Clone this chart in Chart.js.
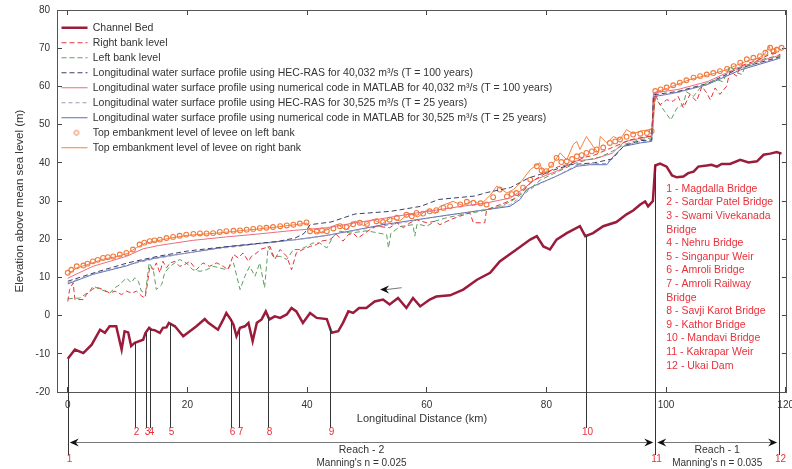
<!DOCTYPE html>
<html>
<head>
<meta charset="utf-8">
<script src="https://cdn.jsdelivr.net/npm/chart.js@4.4.1/dist/chart.umd.min.js"></script>
<style>
  body { margin: 0; background: #fff; }
  #wrap { width: 792px; height: 469px; }
</style>
</head>
<body>
<div id="wrap"><canvas id="profile-chart"></canvas></div>
<script>
// channel bed
const bedKm = [0, 1.2, 2.6, 4.0, 5.4, 6.2, 7.0, 8.1, 9.0, 9.5, 10.1, 10.6, 11.2, 12.6, 13.0, 13.6, 14.0, 14.5, 15.4, 15.9, 16.5, 16.9, 17.9, 18.4, 19.3, 20.4, 21.5, 22.9, 23.5, 24.3, 25.1, 26.0, 26.5, 27.2, 27.7, 28.2, 28.8, 29.6, 30.2, 30.9, 31.6, 32.4, 33.1, 33.7, 34.6, 35.5, 36.6, 37.4, 38.2, 39.3, 40.5, 41.6, 43.3, 44.1, 45.2, 46.0, 46.9, 47.7, 48.7, 49.9, 51.3, 52.7, 53.8, 55.2, 56.6, 57.7, 58.9, 60.5, 61.6, 63.9, 66.1, 68.4, 70.6, 72.2, 75.0, 77.3, 78.4, 79.5, 80.6, 81.7, 83.4, 85.6, 86.5, 87.8, 89.5, 91.7, 93.4, 94.5, 95.7, 96.5, 97.0, 97.8, 98.2, 99.0, 100.1, 101.0, 101.8, 102.9, 103.7, 104.6, 105.4, 106.8, 107.6, 108.5, 109.3, 110.7, 112.4, 113.8, 115.2, 116.3, 117.4, 118.5, 119.3];
const bedElev = [-11.3, -8.9, -9.8, -7.6, -3.7, -4.5, -2.8, -2.8, -8.9, -4.1, -4.4, -8.0, -7.1, -6.3, -4.5, -3.2, -3.7, -3.8, -4.5, -3.2, -3.1, -1.9, -2.8, -3.7, -5.4, -4.1, -2.8, -0.9, -1.9, -2.8, -3.7, -1.0, 0.7, -0.9, -2.4, -5.4, -3.2, -2.8, -1.9, -6.7, -1.9, -1.0, 1.1, -1.0, -0.2, -0.6, 0.3, 2.0, 1.1, -1.9, 0.7, -0.6, -0.9, -4.5, -4.1, -1.9, 1.1, 0.7, 2.0, 2.0, 3.7, 4.2, 2.9, 4.6, 2.0, 4.6, 2.4, 4.2, 5.0, 5.3, 6.8, 9.4, 11.2, 14.2, 17.3, 19.9, 20.8, 18.1, 17.3, 19.9, 21.6, 23.4, 20.8, 21.6, 23.4, 24.5, 26.5, 27.5, 29.1, 29.9, 28.6, 30.0, 39.3, 39.8, 39.0, 36.7, 36.2, 36.4, 37.3, 37.7, 39.0, 39.3, 39.5, 39.0, 39.7, 39.7, 40.8, 40.1, 40.4, 42.1, 42.4, 42.8, 42.4];

// right bank level
const rightBankKm = [0, 0.3, 0.9, 1.2, 2.6, 3.1, 4.2, 5.1, 6.2, 7.0, 7.9, 9.0, 9.8, 10.7, 11.5, 12.3, 12.9, 13.3, 13.7, 14.3, 14.8, 15.4, 15.9, 16.5, 17.1, 17.9, 18.7, 19.6, 20.4, 21.5, 22.6, 23.7, 24.9, 26.0, 26.8, 27.7, 28.5, 29.3, 30.2, 30.7, 31.6, 32.1, 33.8, 34.6, 35.5, 36.6, 37.4, 38.2, 39.3, 40.5, 41.6, 42.4, 43.8, 44.9, 46.0, 46.9, 47.7, 48.5, 50.5, 51.6, 53.8, 55.0, 56.1, 57.2, 58.3, 60.0, 61.4, 62.2, 63.9, 65.5, 67.2, 67.8, 69.7, 70.0, 71.5, 73.0, 74.5, 76.0, 77.5, 79.0, 80.5, 82.0, 83.5, 85.0, 86.5, 88.0, 89.5, 91.0, 92.5, 94.0, 95.5, 97.5, 98.2, 99.0, 100.1, 101.2, 102.0, 102.9, 104.0, 105.1, 106.0, 106.8, 107.4, 108.2, 109.0, 110.1, 110.7, 111.8, 112.4, 114.0, 115.7, 117.9, 119.1];
const rightBankElev = [3.7, 6.8, 8.6, 4.2, 4.2, 5.5, 7.0, 7.3, 6.6, 5.9, 6.4, 5.5, 6.4, 5.9, 6.4, 5.2, 4.6, 8.1, 12.9, 12.0, 13.8, 11.2, 14.2, 12.5, 13.8, 14.2, 12.9, 13.4, 14.2, 12.0, 13.8, 12.9, 13.8, 12.9, 12.0, 16.0, 15.1, 16.4, 14.2, 15.5, 16.4, 17.3, 18.1, 14.7, 17.3, 15.5, 12.0, 16.4, 17.3, 18.1, 18.6, 19.5, 19.9, 21.2, 19.5, 21.2, 21.6, 20.3, 22.5, 23.4, 23.0, 24.3, 23.0, 24.3, 25.1, 24.3, 24.7, 23.8, 25.1, 26.0, 26.9, 24.3, 24.3, 27.7, 28.6, 29.5, 30.5, 32.5, 35.0, 36.5, 37.8, 39.0, 39.5, 40.5, 41.5, 42.0, 43.0, 44.0, 45.0, 46.0, 46.5, 47.0, 57.9, 55.2, 56.5, 56.1, 57.4, 54.4, 57.9, 56.1, 60.0, 58.3, 56.5, 59.6, 57.9, 60.0, 64.0, 62.7, 65.3, 66.2, 67.1, 68.8, 68.3];

// left bank level
const leftBankKm = [0, 2.0, 3.7, 4.2, 7.0, 7.9, 8.7, 9.8, 10.6, 11.2, 11.8, 12.3, 13.0, 13.6, 14.3, 14.8, 15.7, 16.2, 17.1, 18.7, 19.8, 20.9, 22.1, 23.2, 24.3, 25.4, 26.5, 27.7, 28.8, 29.6, 30.4, 31.3, 32.1, 32.9, 33.5, 34.3, 35.5, 36.6, 37.7, 38.8, 39.9, 41.0, 42.1, 43.3, 44.4, 45.5, 47.2, 50.0, 53.3, 53.6, 54.0, 55.5, 57.7, 58.0, 58.4, 60.0, 61.5, 63.3, 66.0, 69.0, 72.0, 74.0, 76.0, 77.5, 79.0, 81.0, 83.0, 85.0, 87.0, 89.0, 91.0, 93.0, 95.5, 97.5, 98.2, 99.8, 100.8, 101.8, 102.9, 103.4, 104.6, 105.7, 106.8, 108.5, 109.5, 110.7, 111.8, 112.7, 113.2, 115.0, 117.0, 119.1];
const leftBankElev = [4.4, 4.6, 6.4, 7.7, 5.9, 7.3, 8.1, 9.9, 8.6, 9.9, 9.0, 6.4, 5.9, 13.8, 12.0, 6.8, 8.1, 11.2, 12.9, 14.7, 13.8, 12.0, 11.6, 12.0, 12.9, 12.5, 12.0, 13.8, 6.8, 10.3, 12.9, 10.3, 13.8, 7.3, 18.1, 15.5, 15.5, 14.7, 17.3, 17.3, 18.1, 19.0, 19.0, 17.7, 20.8, 22.1, 21.6, 22.2, 21.2, 17.7, 21.5, 23.3, 23.8, 20.8, 24.0, 23.4, 24.8, 25.6, 26.5, 27.3, 28.5, 29.8, 32.0, 33.5, 35.5, 37.0, 38.5, 40.0, 40.8, 41.5, 43.0, 44.8, 46.0, 46.5, 57.0, 53.4, 51.2, 54.3, 55.2, 58.6, 57.4, 59.6, 60.9, 61.8, 61.2, 65.3, 63.6, 63.1, 65.3, 66.5, 67.5, 68.0];

// HEC-RAS, 40,032 m3/s
const hec100Km = [0, 5, 10, 15, 20, 25, 30, 35, 38, 39.5, 40.5, 44, 48, 54, 59, 62, 68, 70, 74, 77, 80, 84, 88, 91, 93, 95.7, 97.6, 97.9, 102, 107, 112, 119.1];
const hec100Elev = [9.0, 11.5, 13.8, 15.5, 16.9, 17.8, 18.6, 19.4, 20.3, 21.5, 23.8, 24.5, 26.6, 27.3, 28.6, 30.4, 31.3, 32.2, 33.5, 36.0, 37.5, 39.5, 40.0, 41.0, 44.5, 45.8, 46.0, 57.8, 58.7, 60.8, 64.6, 67.8];

// MATLAB, 40,032 m3/s
const mat100Km = [0, 4.2, 9.8, 12.6, 15.4, 20.9, 26.5, 32.1, 37.7, 43.3, 47.7, 53, 58, 64, 70, 74, 76, 78, 82, 85, 88, 91, 93, 96, 97.6, 97.9, 102, 107, 112, 119.1];
const mat100Elev = [9.8, 12.9, 15.5, 17.5, 18.4, 19.7, 20.6, 21.4, 22.3, 23.0, 24.2, 25.5, 26.8, 28.2, 29.5, 30.8, 33.0, 35.5, 38.0, 40.5, 41.0, 42.5, 45.5, 46.5, 47.0, 58.3, 59.2, 61.3, 64.9, 68.2];

// HEC-RAS, 30,525 m3/s
const hec25Km = [0, 5, 10, 15, 20, 25, 30, 35, 40, 45, 50, 55, 60, 65, 70, 74, 76, 78, 82, 85, 88, 90, 91.5, 93, 95.7, 97.6, 97.9, 102, 107, 112, 119.1];
const hec25Elev = [8.6, 11.2, 13.3, 15.0, 16.4, 17.5, 18.4, 19.3, 20.2, 21.4, 22.8, 24.1, 25.4, 26.6, 27.8, 29.0, 31.5, 33.8, 36.8, 39.3, 39.8, 39.8, 42.0, 44.5, 45.5, 45.9, 57.5, 58.4, 60.6, 64.5, 67.6];

// MATLAB, 30,525 m3/s
const mat25Km = [0, 4.2, 9.8, 12.0, 15.4, 20.9, 26.5, 32.1, 37.7, 43.3, 47.7, 52.7, 58.3, 63.9, 69.4, 73.9, 75.6, 76.7, 78.4, 81.7, 85.1, 87.3, 90.1, 91.2, 92.9, 95.7, 97.6, 97.9, 101.2, 106.8, 112.4, 119.1];
const mat25Elev = [8.3, 10.8, 13.0, 14.2, 15.3, 16.6, 18.0, 18.9, 19.8, 21.0, 22.3, 23.8, 25.1, 26.4, 27.6, 28.6, 30.4, 33.0, 34.3, 36.5, 39.1, 39.5, 39.5, 41.7, 44.3, 45.2, 45.6, 57.3, 58.2, 60.4, 64.3, 67.4];

// top embankment, left bank (markers)
const leveeLeftKm = [0, 0.6, 1.5, 2.6, 3.3, 4.2, 5.0, 5.9, 6.7, 7.6, 8.7, 9.8, 10.9, 12.0, 12.8, 13.7, 14.5, 15.4, 16.5, 17.6, 18.7, 19.8, 21.0, 22.1, 23.2, 24.3, 25.4, 26.5, 27.7, 28.8, 29.9, 31.0, 32.1, 33.2, 34.3, 35.5, 36.6, 37.7, 38.8, 39.9, 40.5, 41.6, 42.5, 43.3, 44.4, 45.5, 46.6, 47.7, 48.8, 50.0, 51.6, 52.7, 53.8, 55.0, 56.6, 57.5, 58.3, 59.4, 60.5, 61.6, 62.8, 63.9, 65.6, 66.7, 67.8, 69.0, 70.0, 71.1, 72.2, 73.4, 74.2, 75.0, 76.1, 77.3, 78.4, 79.2, 80.0, 80.8, 81.7, 82.5, 83.4, 84.3, 85.1, 85.9, 86.7, 87.6, 88.4, 89.5, 90.6, 91.5, 92.3, 93.4, 94.5, 95.7, 96.8, 97.6, 98.2, 99.1, 100.1, 101.2, 102.3, 103.4, 104.6, 105.7, 106.8, 107.9, 109.0, 110.2, 111.3, 112.4, 113.5, 114.6, 115.7, 116.6, 117.4, 118.0, 118.5, 119.3];
const leveeLeftElev = [11.2, 12.0, 12.9, 13.1, 13.6, 14.2, 14.6, 15.1, 15.3, 15.5, 16.0, 16.4, 17.3, 18.6, 19.1, 19.5, 19.7, 19.9, 20.3, 20.6, 20.9, 21.2, 21.4, 21.5, 21.5, 21.6, 21.9, 22.1, 22.2, 22.3, 22.5, 22.7, 22.9, 23.0, 23.2, 23.4, 23.6, 23.8, 24.1, 24.4, 22.1, 22.0, 22.3, 22.1, 22.8, 23.4, 23.2, 23.9, 24.3, 24.0, 24.7, 24.5, 25.1, 25.6, 26.4, 26.0, 26.9, 26.7, 27.3, 27.6, 28.2, 28.6, 29.1, 29.8, 29.5, 29.4, 29.1, 31.0, 33.0, 31.2, 31.8, 32.1, 33.5, 35.6, 39.1, 38.0, 37.8, 39.5, 41.3, 40.2, 40.4, 41.0, 41.7, 42.0, 42.6, 43.0, 43.5, 44.0, 45.2, 45.6, 46.1, 46.8, 47.4, 47.6, 47.8, 48.3, 58.8, 59.2, 59.7, 60.3, 61.0, 61.6, 62.3, 62.7, 63.1, 63.5, 64.0, 64.6, 65.3, 66.2, 67.1, 67.5, 67.9, 68.8, 70.1, 69.2, 69.6, 70.1];

// top embankment, right bank (line)
const leveeRightKm = [0, 1.5, 3, 4.5, 6, 8, 10, 11.5, 13, 15, 17.5, 20, 22.5, 25, 27.5, 30, 32.5, 35, 37.5, 40, 40.5, 42, 43.5, 45, 46.5, 48, 49.5, 51, 52.5, 54, 55.5, 57, 58.5, 60, 61.5, 62.2, 64.4, 66, 67.8, 69, 70.6, 71.7, 73.4, 74.5, 75.6, 77.3, 78.9, 79.5, 81.2, 82.3, 83.4, 84.5, 85.1, 85.6, 86.7, 87.8, 88.7, 89.0, 90.1, 91.2, 92.3, 93.4, 94.5, 95.7, 97.3, 97.8, 98.2, 100, 102, 104, 106, 108, 110, 112, 114, 115.5, 116.5, 117.2, 117.8, 118.5, 119.3];
const leveeRightElev = [10.8, 12.5, 13.2, 14.0, 14.8, 15.4, 16.3, 17.8, 19.0, 19.6, 20.4, 21.0, 21.3, 21.6, 22.0, 22.4, 22.8, 23.2, 23.7, 24.2, 22.3, 21.6, 22.6, 23.9, 22.4, 24.8, 23.5, 25.2, 24.0, 25.6, 24.8, 26.8, 25.8, 27.6, 26.7, 28.6, 29.9, 28.8, 30.2, 29.0, 31.5, 33.9, 32.1, 33.0, 34.7, 38.2, 40.0, 36.9, 40.0, 42.6, 40.8, 44.8, 45.6, 43.5, 46.9, 44.3, 42.6, 46.9, 45.2, 46.9, 46.0, 48.7, 47.6, 48.3, 48.7, 48.5, 58.5, 59.4, 60.6, 61.8, 62.6, 63.4, 64.3, 65.7, 66.9, 67.4, 68.5, 70.5, 68.2, 70.3, 69.5];

// bridges / weirs along the river
const bridgeKm = [0, 11.2, 13.0, 13.8, 17.1, 27.2, 28.6, 33.5, 43.8, 86.6, 98.2, 118.9];
const bridgeList = ['1 - Magdalla Bridge', '2 - Sardar Patel Bridge', '3 - Swami Vivekanada', 'Bridge', '4 - Nehru Bridge',
  '5 - Singanpur Weir', '6 - Amroli Bridge', '7 - Amroli Railway', 'Bridge', '8 - Savji Karot Bridge',
  '9 - Kathor Bridge', '10 - Mandavi Bridge', '11 - Kakrapar Weir', '12 - Ukai Dam'];

const reaches = [
  { from: 0, to: 98.2, name: 'Reach - 2', n: "Manning's n = 0.025" },
  { from: 98.2, to: 118.9, name: 'Reach - 1', n: "Manning's n = 0.035" }
];

// flow direction arrow (km, m)
const flowArrow = [[55.8, 7.3], [52.2, 6.8]];

const FONT = "'Liberation Sans', Arial, sans-serif";
Chart.defaults.font.family = FONT;
Chart.defaults.color = '#333';

const pts = (km, v) => km.map((k, i) => ({ x: k, y: v[i] }));

const bedAt = (km) => {
  for (let i = 1; i < bedKm.length; i++) {
    if (km <= bedKm[i]) {
      const t = (km - bedKm[i - 1]) / (bedKm[i] - bedKm[i - 1]);
      return bedElev[i - 1] + t * (bedElev[i] - bedElev[i - 1]);
    }
  }
  return bedElev[bedElev.length - 1];
};

// small legend symbol for the levee markers
const markerIcon = document.createElement('canvas');
markerIcon.width = 26;
markerIcon.height = 10;
const mctx = markerIcon.getContext('2d');
mctx.strokeStyle = '#f07a3c';
mctx.lineWidth = 1;
mctx.beginPath();
mctx.arc(15, 5, 2.3, 0, Math.PI * 2);
mctx.stroke();

function arrowHead(ctx, x, y, dir) {
  ctx.beginPath();
  ctx.moveTo(x, y);
  ctx.lineTo(x - dir * 9, y - 4);
  ctx.lineTo(x - dir * 6, y);
  ctx.lineTo(x - dir * 9, y + 4);
  ctx.closePath();
  ctx.fill();
}

const annotations = {
  id: 'annotations',
  afterDatasetsDraw(chart) {
    const { ctx, chartArea: a, scales: { x, y } } = chart;
    ctx.save();

    // bridge lines and numbers
    ctx.font = '10px ' + FONT;
    ctx.textAlign = 'center';
    ctx.textBaseline = 'middle';
    bridgeKm.forEach((km, i) => {
      const px = Math.round(x.getPixelForValue(km)) + 0.5;
      const top = y.getPixelForValue(bedAt(km));
      const long = i === 0 || i >= 10;
      const bottom = a.bottom + (long ? 63 : 36);
      ctx.strokeStyle = '#333';
      ctx.lineWidth = 1;
      ctx.beginPath();
      ctx.moveTo(px, top);
      ctx.lineTo(px, bottom);
      ctx.stroke();
      ctx.fillStyle = '#e8303a';
      ctx.fillText(String(i + 1), px + 1, bottom + 4);
    });

    // reach arrows
    const ay = a.bottom + 50.5;
    reaches.forEach(r => {
      const x1 = x.getPixelForValue(r.from) + 2;
      const x2 = x.getPixelForValue(r.to) - 2;
      ctx.strokeStyle = '#777';
      ctx.lineWidth = 1;
      ctx.beginPath();
      ctx.moveTo(x1 + 6, ay);
      ctx.lineTo(x2 - 6, ay);
      ctx.stroke();
      ctx.fillStyle = '#111';
      arrowHead(ctx, x1, ay, -1);
      arrowHead(ctx, x2, ay, 1);
      ctx.fillStyle = '#333';
      ctx.font = '10.5px ' + FONT;
      ctx.fillText(r.name, (x1 + x2) / 2, ay + 8);
      ctx.font = '10px ' + FONT;
      ctx.fillText(r.n, (x1 + x2) / 2, ay + 21);
    });

    // bridge list
    ctx.textAlign = 'left';
    ctx.fillStyle = '#e8303a';
    ctx.font = '10.5px ' + FONT;
    const lx = x.getPixelForValue(98.2) + 11;
    bridgeList.forEach((t, i) => ctx.fillText(t, lx, a.top + 179 + i * 13.6));

    // flow direction arrow
    const fx1 = x.getPixelForValue(flowArrow[0][0]);
    const fy1 = y.getPixelForValue(flowArrow[0][1]);
    const fx2 = x.getPixelForValue(flowArrow[1][0]);
    const fy2 = y.getPixelForValue(flowArrow[1][1]);
    ctx.strokeStyle = '#777';
    ctx.beginPath();
    ctx.moveTo(fx1, fy1);
    ctx.lineTo(fx2 + 6, fy2);
    ctx.stroke();
    ctx.fillStyle = '#111';
    arrowHead(ctx, fx2, fy2, -1);

    ctx.restore();
  }
};

const xRange = { min: -1.8, max: 120.2 };
const yRange = { min: -20, max: 80 };

// keep tick labels from pushing the plot frame inwards
const zeroPad = () => ({ left: 0, top: 0, right: 0, bottom: 0 });
const noPad = s => {
  s.paddingLeft = 0; s.paddingRight = 0; s.paddingTop = 0; s.paddingBottom = 0;
  s.getPadding = zeroPad;
};

const frameAxis = (pos) => ({
  type: 'linear',
  position: pos,
  ...(pos === 'top' ? xRange : yRange),
  ticks: { stepSize: pos === 'top' ? 20 : 10, includeBounds: false, display: false },
  grid: { drawOnChartArea: false, tickLength: -5, color: '#444' },
  border: { color: '#555' },
  afterFit: s => { if (pos === 'top') s.height = 0; else s.width = 0; noPad(s); }
});

new Chart(document.getElementById('profile-chart'), {
  type: 'line',
  data: {
    datasets: [
      { label: 'Channel Bed', data: pts(bedKm, bedElev), borderColor: '#9b1b3b', borderWidth: 2.5 },
      { label: 'Right bank level', data: pts(rightBankKm, rightBankElev), borderColor: '#e8303a', borderWidth: 1, borderDash: [5, 3] },
      { label: 'Left bank level', data: pts(leftBankKm, leftBankElev), borderColor: '#5c9f5c', borderWidth: 1, borderDash: [5, 3] },
      { label: 'Longitudinal water surface profile using HEC-RAS for 40,032 m³/s (T = 100 years)', data: pts(hec100Km, hec100Elev), borderColor: '#3d4066', borderWidth: 1, borderDash: [5, 3] },
      { label: 'Longitudinal water surface profile using numerical code in MATLAB for 40,032 m³/s (T = 100 years)', data: pts(mat100Km, mat100Elev), borderColor: '#f06b7a', borderWidth: 1 },
      { label: 'Longitudinal water surface profile using HEC-RAS for 30,525 m³/s (T = 25 years)', data: pts(hec25Km, hec25Elev), borderColor: '#a09ab0', borderWidth: 1, borderDash: [4, 3] },
      { label: 'Longitudinal water surface profile using numerical code in MATLAB for 30,525 m³/s (T = 25 years)', data: pts(mat25Km, mat25Elev), borderColor: '#5a6cc0', borderWidth: 1 },
      { label: 'Top embankment level of levee on left bank', data: pts(leveeLeftKm, leveeLeftElev), showLine: false, borderColor: '#f07a3c', backgroundColor: 'rgba(255,255,255,0)', pointRadius: 2.4, pointBorderWidth: 1.1 },
      { label: 'Top embankment level of levee on right bank', data: pts(leveeRightKm, leveeRightElev), borderColor: '#f5813f', borderWidth: 1 }
    ]
  },
  options: {
    responsive: true,
    maintainAspectRatio: false,
    animation: false,
    events: [],
    layout: { padding: { left: 0, right: 2, top: 10, bottom: 0 } },
    elements: {
      line: { tension: 0, fill: false },
      point: { radius: 0 }
    },
    scales: {
      x: {
        type: 'linear',
        ...xRange,
        ticks: { stepSize: 20, includeBounds: false, padding: 12, font: { size: 10 }, color: '#333' },
        grid: { drawOnChartArea: false, tickLength: -5, color: '#444' },
        border: { color: '#555' },
        title: { display: true, text: 'Longitudinal Distance (km)', font: { size: 11 }, color: '#333', padding: { top: 0, bottom: 43 } },
        afterFit: s => { s.height = 77; noPad(s); }
      },
      y: {
        type: 'linear',
        ...yRange,
        ticks: { stepSize: 10, includeBounds: false, padding: 12, font: { size: 10 }, color: '#333' },
        grid: { drawOnChartArea: false, tickLength: -5, color: '#444' },
        border: { color: '#555' },
        title: { display: true, text: 'Elevation above mean sea level (m)', font: { size: 11.5 }, color: '#333', padding: { top: 13, bottom: 0 } },
        afterFit: s => { s.width = 57; noPad(s); }
      },
      x2: frameAxis('top'),
      y2: frameAxis('right')
    },
    plugins: {
      tooltip: { enabled: false },
      legend: {
        position: 'chartArea',
        align: 'start',
        title: { display: true, text: ' ', padding: 0, font: { size: 10, lineHeight: '18px' } },
        labels: {
          usePointStyle: true,
          pointStyleWidth: 26,
          boxHeight: 4,
          padding: 4.5,
          font: { size: 10.5 },
          generateLabels: chart => chart.data.datasets.map((ds, i) => ({
            text: ds.label,
            datasetIndex: i,
            fillStyle: 'rgba(0,0,0,0)',
            strokeStyle: ds.borderColor,
            lineWidth: ds.showLine === false ? 1 : ds.borderWidth,
            lineDash: ds.borderDash || [],
            pointStyle: ds.showLine === false ? markerIcon : 'line',
            fontColor: '#333',
            hidden: false
          }))
        }
      }
    }
  },
  plugins: [annotations]
});
</script>
</body>
</html>
